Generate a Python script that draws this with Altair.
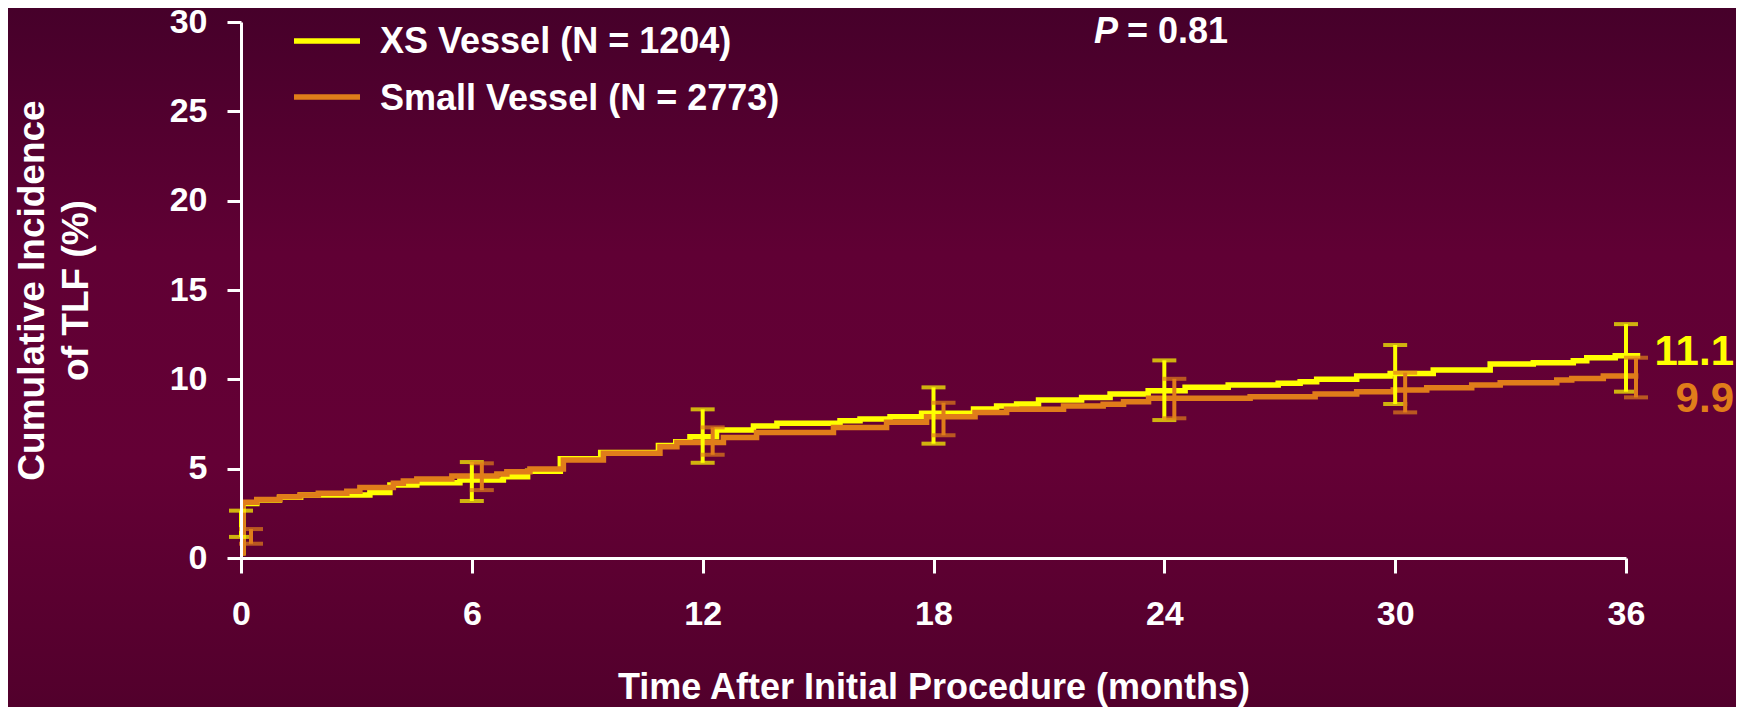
import altair as alt
import pandas as pd

# ---------------- data ----------------
xs_t = [0, 0.05, 0.41, 1.0, 1.55, 3.35, 3.87, 4.57, 5.69, 6.82, 7.45, 8.3, 9.35, 10.85,
        11.3, 11.67, 12.36, 13.32, 13.93, 15.57, 16.09, 16.87, 17.69, 19.04, 19.64, 20.16,
        20.73, 21.85, 22.59, 23.58, 24.54, 25.66, 26.96, 27.53, 27.96, 29.0, 29.87, 30.99,
        32.47, 33.59, 34.63, 34.98, 35.72, 36.37]
xs_v = [0.3, 3.05, 3.25, 3.4, 3.52, 3.67, 4.08, 4.21, 4.36, 4.55, 4.85, 5.55, 5.9, 6.3,
        6.5, 6.79, 7.16, 7.39, 7.54, 7.68, 7.78, 7.91, 8.1, 8.34, 8.51, 8.62,
        8.84, 8.99, 9.18, 9.36, 9.55, 9.68, 9.78, 9.87, 10.0, 10.18, 10.33, 10.52,
        10.86, 10.93, 11.04, 11.21, 11.32, 11.32]

sm_t = [0, 0.05, 0.41, 1.01, 1.53, 2.01, 2.75, 3.09, 3.96, 4.22, 4.57, 5.48, 6.65, 6.91,
        7.51, 8.38, 9.42, 10.89, 11.33, 12.54, 13.4, 15.4, 16.78, 17.82, 19.08, 19.9,
        21.38, 22.41, 22.94, 23.59, 26.23, 27.92, 29.0, 29.95, 30.82, 31.99, 32.73,
        34.2, 34.59, 35.41, 36.32]
sm_v = [0.3, 3.12, 3.28, 3.43, 3.52, 3.62, 3.73, 3.95, 4.18, 4.31, 4.42, 4.59, 4.70, 4.83,
        4.98, 5.48, 5.86, 6.23, 6.47, 6.75, 7.03, 7.31, 7.6, 7.91, 8.15, 8.32,
        8.51, 8.6, 8.75, 8.94, 9.03, 9.18, 9.31, 9.4, 9.53, 9.68, 9.81,
        9.96, 10.05, 10.18, 10.18]

bar_t = [0, 6, 12, 18, 24, 30, 36]
xs_lo = [1.18, 3.19, 5.33, 6.40, 7.72, 8.62, 9.31]
xs_hi = [2.65, 5.37, 8.32, 9.55, 11.06, 11.92, 13.09]
sm_lo = [0.80, 3.80, 5.78, 6.87, 7.82, 8.15, 8.99]
sm_hi = [1.62, 5.30, 7.31, 8.69, 10.03, 10.37, 11.21]

end_labels = ["11.1", "9.9"]
end_values = [11.1, 9.9]
legend_labels = ["XS Vessel (N = 1204)", "Small Vessel (N = 2773)"]
x_ticks = [0, 6, 12, 18, 24, 30, 36]
y_ticks = [0, 5, 10, 15, 20, 25, 30]

YELLOW = "#FFFF00"
ORANGE = "#E07D1A"
FONT = "Liberation Sans"

W, H = 1385, 536

xscale = alt.Scale(domain=[0, 36], nice=False, zero=False)
yscale = alt.Scale(domain=[0, 30], nice=False, zero=False)

xaxis = alt.Axis(values=x_ticks, grid=False, domainColor="white", domainWidth=3,
                 tickColor="white", tickWidth=3, tickSize=15, zindex=1,
                 labelColor="white", labelFont=FONT, labelFontSize=34, labelFontWeight="bold",
                 labelPadding=51, labelBaseline="alphabetic", labelFlush=False, labelOverlap=False,
                 title="Time After Initial Procedure (months)", titleColor="white",
                 titleFont=FONT, titleFontSize=36, titleFontWeight="bold",
                 titleBaseline="alphabetic", titleY=140, titleX=W / 2, titleAlign="center")
yaxis = alt.Axis(values=y_ticks, grid=False, domainColor="white", domainWidth=3,
                 tickColor="white", tickWidth=3, tickSize=14, zindex=1,
                 labelColor="white", labelFont=FONT, labelFontSize=34, labelFontWeight="bold",
                 labelPadding=20, labelFlush=False, labelOverlap=False,
                 title=["Cumulative Incidence", "of TLF (%)"], titleColor="white",
                 titleFont=FONT, titleFontSize=37, titleFontWeight="bold",
                 titleAngle=270, titleAlign="center", titleBaseline="alphabetic",
                 titleLineHeight=44, titleX=-198, titleY=H / 2)


def X(f):
    return alt.X(f, type="quantitative", scale=xscale, axis=xaxis)


def Y(f):
    return alt.Y(f, type="quantitative", scale=yscale, axis=yaxis)


bg_grad = alt.Gradient(
    gradient="linear", x1=0, x2=0, y1=0, y2=1,
    stops=[alt.GradientStop(color="#46002a", offset=0),
           alt.GradientStop(color="#600034", offset=0.35),
           alt.GradientStop(color="#640035", offset=0.65),
           alt.GradientStop(color="#52002c", offset=1)])

background = alt.Chart(pd.DataFrame({"a": [1]})).mark_rect(fill=bg_grad).encode(
    x=alt.value(-233), x2=alt.value(W + 110), y=alt.value(-14), y2=alt.value(H + 149))

xs_df = pd.DataFrame({"t": xs_t, "v": xs_v})
sm_df = pd.DataFrame({"t": sm_t, "v": sm_v})

xs_line = alt.Chart(xs_df).mark_line(interpolate="step-after", color=YELLOW, strokeWidth=5.5).encode(
    x=X("t"), y=Y("v"))
sm_line = alt.Chart(sm_df).mark_line(interpolate="step-after", color=ORANGE, strokeWidth=5.5).encode(
    x=X("t"), y=Y("v"))

xs_bar_df = pd.DataFrame({"t": bar_t, "lo": xs_lo, "hi": xs_hi})
sm_bar_df = pd.DataFrame({"t": bar_t, "lo": sm_lo, "hi": sm_hi})


def bars(df, color, off):
    base = alt.Chart(df)
    rule = base.mark_rule(color=color, strokeWidth=4, xOffset=off).encode(
        x=X("t"), y=Y("lo"), y2="hi")
    lo = base.mark_tick(color=color, orient="horizontal", size=24, thickness=4, xOffset=off).encode(
        x=X("t"), y=Y("lo"))
    hi = base.mark_tick(color=color, orient="horizontal", size=24, thickness=4, xOffset=off).encode(
        x=X("t"), y=Y("hi"))
    return rule + lo + hi


xs_bars = bars(xs_bar_df, YELLOW, 0)
sm_bars = bars(sm_bar_df, ORANGE, 10)

lab1 = alt.Chart(pd.DataFrame({"t": [36], "v": [end_values[0]], "lab": [end_labels[0]]})).mark_text(
    align="right", baseline="alphabetic", dx=108, dy=5, font=FONT, fontSize=42,
    fontWeight="bold", color=YELLOW).encode(x=X("t"), y=Y("v"), text="lab:N")
lab2 = alt.Chart(pd.DataFrame({"t": [36], "v": [end_values[1]], "lab": [end_labels[1]]})).mark_text(
    align="right", baseline="alphabetic", dx=108, dy=31, font=FONT, fontSize=42,
    fontWeight="bold", color=ORANGE).encode(x=X("t"), y=Y("v"), text="lab:N")

one = pd.DataFrame({"a": [1]})
leg_line1 = alt.Chart(one).mark_rule(color=YELLOW, strokeWidth=5.5).encode(
    x=alt.value(53), x2=alt.value(119), y=alt.value(19))
leg_line2 = alt.Chart(one).mark_rule(color=ORANGE, strokeWidth=5.5).encode(
    x=alt.value(53), x2=alt.value(119), y=alt.value(75))
leg_txt1 = alt.Chart(one).mark_text(align="left", baseline="alphabetic", font=FONT, fontSize=36,
                                    fontWeight="bold", color="white", text=legend_labels[0]).encode(
    x=alt.value(139), y=alt.value(31))
leg_txt2 = alt.Chart(one).mark_text(align="left", baseline="alphabetic", font=FONT, fontSize=36,
                                    fontWeight="bold", color="white", text=legend_labels[1]).encode(
    x=alt.value(139), y=alt.value(88))

p_txt = alt.Chart(one).mark_text(align="left", baseline="alphabetic", font=FONT, fontSize=36,
                                 fontWeight="bold", fontStyle="italic", color="white", text="P").encode(
    x=alt.value(853), y=alt.value(21))
p_val = alt.Chart(one).mark_text(align="left", baseline="alphabetic", font=FONT, fontSize=36,
                                 fontWeight="bold", color="white", text="= 0.81").encode(
    x=alt.value(886), y=alt.value(21))

chart = alt.layer(
    background, xs_line, sm_line, xs_bars, sm_bars, lab1, lab2,
    leg_line1, leg_line2, leg_txt1, leg_txt2, p_txt, p_val
).properties(
    width=W, height=H,
    padding={"left": 233, "top": 14, "right": 110, "bottom": 149},
    autosize=alt.AutoSizeParams(type="none"),
).configure_view(stroke=None).configure(background="#5a002e")

chart.save("out.html", embed_options={"renderer": "svg", "actions": False})
